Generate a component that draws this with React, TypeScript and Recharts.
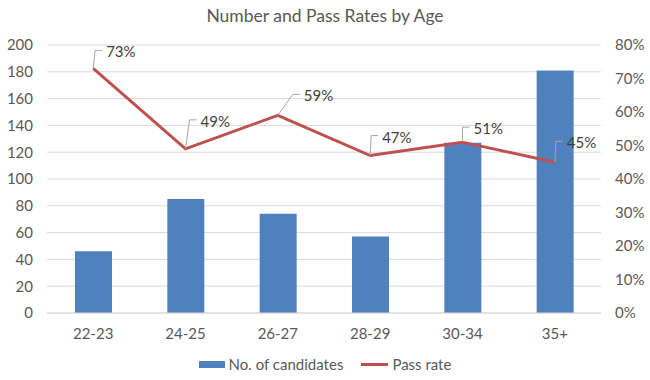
import { ComposedChart, Bar, Line, XAxis, YAxis, CartesianGrid, LabelList } from "recharts"

const AGE_GROUPS = ["22-23", "24-25", "26-27", "28-29", "30-34", "35+"]
const CANDIDATES = [46, 85, 74, 57, 127, 181]
const PASS_RATE = [0.73, 0.49, 0.59, 0.47, 0.51, 0.45]
const LEFT_TICKS = [0, 20, 40, 60, 80, 100, 120, 140, 160, 180, 200]
const RIGHT_TICKS = [0, 0.1, 0.2, 0.3, 0.4, 0.5, 0.6, 0.7, 0.8]

// where excel dragged each label's leader line (dx, dy from the point)
const LABEL_NUDGE: [number, number][] = [[2, -18], [4, -29], [15, -21], [1, -20], [0, -15], [1, -21]]

const BLUE = "#4F81BD"
const RED = "#C0504D"
const TEXT = "#595959"
const GRID = "#D9D9D9"
const FONT = "Lato, 'Liberation Sans', sans-serif"

const data = AGE_GROUPS.map((age, i) => ({ age, candidates: CANDIDATES[i], rate: PASS_RATE[i] }))

function RateLabel(props: any) {
  const { x, y, value, index } = props
  const [dx, dy] = LABEL_NUDGE[index] || [2, -20]
  const cx = x + dx
  const cy = y + dy
  return (
    <g>
      <polyline points={`${x},${y} ${cx},${cy} ${cx + 7},${cy}`} fill="none" stroke="#A6A6A6" strokeWidth={1} />
      <text x={cx + 11} y={cy + 1} dominantBaseline="central" fill="#404040" fontSize={15} fontFamily={FONT}>
        {Math.round(value * 100)}%
      </text>
    </g>
  )
}

export default function App() {
  const tick = { fill: TEXT, fontSize: 15, fontFamily: FONT }
  return (
    <div style={{ position: "absolute", left: 0, top: 0, width: 650, height: 380, background: "#fff", fontFamily: FONT }}>
      <div style={{ position: "absolute", top: 5, width: 650, textAlign: "center", fontSize: 17.5, color: TEXT }}>
        Number and Pass Rates by Age
      </div>
      <ComposedChart width={650} height={380} data={data} margin={{ top: 45, right: 0, bottom: 37, left: 0 }} barCategoryGap="30%">
        <CartesianGrid yAxisId="left" stroke={GRID} vertical={false} />
        <XAxis dataKey="age" tick={tick} tickLine={false} axisLine={{ stroke: GRID }} tickSize={0} tickMargin={15} height={30} />
        <YAxis yAxisId="left" domain={[0, 200]} ticks={LEFT_TICKS} tick={tick} tickLine={false} axisLine={false}
          tickSize={0} tickMargin={14} width={47} interval={0} />
        <YAxis yAxisId="right" orientation="right" domain={[0, 0.8]} ticks={RIGHT_TICKS} tick={tick} tickLine={false}
          axisLine={false} tickSize={0} tickMargin={14} width={49} interval={0}
          tickFormatter={v => `${Math.round(v * 100)}%`} />
        <Bar yAxisId="left" dataKey="candidates" name="No. of candidates" fill={BLUE} barSize={37} isAnimationActive={false} />
        <Line yAxisId="right" dataKey="rate" name="Pass rate" stroke={RED} strokeWidth={3} dot={false} isAnimationActive={false}>
          <LabelList dataKey="rate" content={RateLabel} />
        </Line>
      </ComposedChart>
      <div style={{ position: "absolute", top: 355, width: 650, display: "flex", justifyContent: "center", gap: 18, fontSize: 15, color: TEXT }}>
        <div style={{ display: "flex", alignItems: "center", gap: 4 }}>
          <div style={{ width: 26, height: 7, background: BLUE }} />
          <span>No. of candidates</span>
        </div>
        <div style={{ display: "flex", alignItems: "center", gap: 4 }}>
          <div style={{ width: 27, height: 3, background: RED }} />
          <span>Pass rate</span>
        </div>
      </div>
    </div>
  )
}
